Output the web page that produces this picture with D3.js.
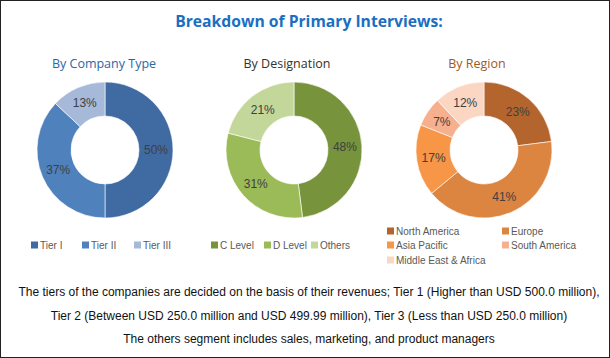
<!DOCTYPE html>
<html><head><meta charset="utf-8">
<script src="https://cdn.jsdelivr.net/npm/d3@7"></script>
<style>
html,body{margin:0;padding:0;background:#fff;}
svg{display:block;font-family:"Liberation Sans",Arial,sans-serif;}
</style></head><body>
<svg id="c" width="610" height="358"></svg>
<script>
const title = "Breakdown of Primary Interviews:";
const companyTitle = "By Company Type";
const companyLabels = ["Tier I", "Tier II", "Tier III"];
const companyValues = [50, 37, 13];
const companyColors = ["#3f6aa2", "#4f81bd", "#a6b9d9"];

const designationTitle = "By Designation";
const designationLabels = ["C Level", "D Level", "Others"];
const designationValues = [48, 31, 21];
const designationColors = ["#77933c", "#9bbb59", "#c4d79b"];

const regionTitle = "By Region";
const regionLabels = ["North America", "Europe", "Asia Pacific", "South America", "Middle East & Africa"];
const regionValues = [23, 41, 17, 7, 12];
const regionColors = ["#b4652d", "#db8540", "#f79646", "#f6b08e", "#fbd6c3"];

const notes = [
  "The tiers of the companies are decided on the basis of their revenues; Tier 1 (Higher than USD 500.0 million),",
  "Tier 2 (Between USD 250.0 million and USD 499.99 million), Tier 3 (Less than USD 250.0 million)",
  "The others segment includes sales, marketing, and product managers"
];

const svg = d3.select("#c");
svg.append("rect").attr("x",0.5).attr("y",0.5).attr("width",609).attr("height",357)
  .attr("fill","#fff").attr("stroke","#222").attr("stroke-width",1);

svg.append("text").attr("x",309).attr("y",27).attr("text-anchor","middle")
  .attr("font-family","'Open Sans',sans-serif")
  .attr("font-size",15.7).attr("font-weight","bold").attr("fill","#1a6fc0").text(title);

const pie = d3.pie().sort(null).value(d => d);
const arc = d3.arc().innerRadius(34).outerRadius(68);

function donut(cx, cy, ttl, ttlColor, ttlX, labels, values, colors) {
  const g = svg.append("g").attr("transform", `translate(${cx},${cy})`);
  const arcs = pie(values);
  g.selectAll("path").data(arcs).join("path")
    .attr("d", arc).attr("fill", (d,i) => colors[i])
    .attr("stroke","#fff").attr("stroke-width",0.6);
  g.selectAll("text.pct").data(arcs).join("text").attr("class","pct")
    .attr("transform", d => `translate(${arc.centroid(d)})`)
    .attr("text-anchor","middle").attr("dy","0.35em")
    .attr("font-size",12).attr("fill","#404040")
    .text(d => d.data + "%");
  svg.append("text").attr("x", ttlX).attr("y", 68).attr("text-anchor","middle")
    .attr("font-family","'Open Sans',sans-serif")
    .attr("font-size",12.5).attr("fill", ttlColor).text(ttl);
}

donut(105, 150, companyTitle, "#2a66a8", 104, companyLabels, companyValues, companyColors);
donut(294, 150, designationTitle, "#33332a", 287, designationLabels, designationValues, designationColors);
donut(484, 150, regionTitle, "#a05a20", 477, regionLabels, regionValues, regionColors);

function legendItem(x, y, label, color) {
  svg.append("rect").attr("x", x).attr("y", y-3.5).attr("width",7).attr("height",7).attr("fill", color);
  svg.append("text").attr("x", x+9).attr("y", y).attr("dy","0.35em")
    .attr("font-size",10).attr("fill","#595959").text(label);
}
const compX = [31, 82, 134];
companyLabels.forEach((l,i) => legendItem(compX[i], 245, l, companyColors[i]));
const desX = [211, 264, 311];
designationLabels.forEach((l,i) => legendItem(desX[i], 245, l, designationColors[i]));
const regPos = [[387,231],[502,231],[387,245],[502,245],[387,260]];
regionLabels.forEach((l,i) => legendItem(regPos[i][0], regPos[i][1], l, regionColors[i]));

const noteY = [292, 316, 339];
notes.forEach((t,i) => {
  svg.append("text").attr("x",309).attr("y",noteY[i]).attr("dy","0.35em").attr("text-anchor","middle")
    .attr("font-size",12).attr("fill","#111").text(t);
});
</script>
</body></html>
